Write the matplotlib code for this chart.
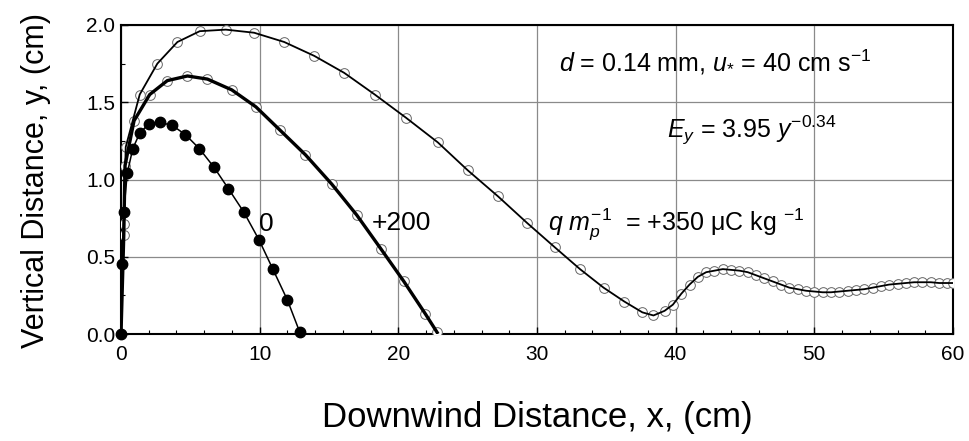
import matplotlib
matplotlib.use("Agg")
import matplotlib.pyplot as plt
from matplotlib.ticker import MultipleLocator

plt.rcParams['font.family'] = ['Liberation Sans', 'DejaVu Sans']
plt.rcParams['mathtext.fontset'] = 'custom'
plt.rcParams['mathtext.rm'] = 'Liberation Sans'
plt.rcParams['mathtext.it'] = 'Liberation Sans:italic'
plt.rcParams['mathtext.bf'] = 'Liberation Sans:bold'

# q/m = 0 (filled circles)
q0_x = [0, 0.1, 0.2, 0.45, 0.85, 1.35, 2.0, 2.8, 3.7, 4.65, 5.65, 6.7, 7.75, 8.85, 9.95, 10.95, 12.0, 12.9]
q0_y = [0, 0.45, 0.79, 1.04, 1.20, 1.30, 1.36, 1.37, 1.35, 1.29, 1.20, 1.08, 0.94, 0.79, 0.61, 0.42, 0.22, 0.01]

# q/m = +200 (open circles, thick line)
q200_x = [0, 0.2, 0.29, 0.94, 2.07, 3.34, 4.79, 6.23, 7.99, 9.73, 11.46, 13.3, 15.2, 17.0, 18.75, 20.4, 21.95, 22.8]
q200_y = [0, 0.64, 1.09, 1.38, 1.55, 1.64, 1.67, 1.65, 1.58, 1.47, 1.32, 1.16, 0.97, 0.77, 0.55, 0.34, 0.13, 0.01]

# q/m = +350 (open circles, thin line)
q350_x = [0, 0.2, 0.34, 1.35, 2.62, 4.07, 5.68, 7.56, 9.6, 11.77, 13.94, 16.1, 18.3, 20.55,
          22.85, 25.0, 27.2, 29.27, 31.3, 33.1, 34.8, 36.3, 37.6, 38.4, 39.2, 39.8, 40.4, 41.0,
          41.6, 42.2, 42.8, 43.4, 44.0, 44.6, 45.2, 45.8, 46.4, 47.0, 47.6, 48.2, 48.8, 49.4,
          50.0, 50.6, 51.2, 51.8, 52.4, 53.0, 53.6, 54.2, 54.8, 55.4, 56.0, 56.6, 57.2, 57.8,
          58.4, 59.0, 59.6, 60.0]
q350_y = [0, 0.71, 1.21, 1.55, 1.75, 1.89, 1.96, 1.97, 1.95, 1.89, 1.80, 1.69, 1.55, 1.40,
          1.24, 1.06, 0.89, 0.72, 0.56, 0.42, 0.30, 0.21, 0.14, 0.12, 0.15, 0.19, 0.26, 0.32,
          0.37, 0.40, 0.41, 0.42, 0.415, 0.41, 0.40, 0.38, 0.36, 0.34, 0.32, 0.30, 0.29, 0.28,
          0.275, 0.27, 0.27, 0.275, 0.28, 0.285, 0.29, 0.30, 0.31, 0.32, 0.325, 0.33, 0.335, 0.335,
          0.335, 0.33, 0.33, 0.33]

x_ticks = [0, 10, 20, 30, 40, 50, 60]
y_ticks = [0.0, 0.5, 1.0, 1.5, 2.0]

fig = plt.figure(figsize=(9.69, 4.41), dpi=100)
ax = fig.add_axes([121/969, 1-334/441, (953-121)/969, (334-25)/441])

ax.set_xlim(0, 60)
ax.set_ylim(0, 2.0)
ax.set_xticks(x_ticks)
ax.set_yticks(y_ticks)
ax.set_yticklabels([f"{v:.1f}" for v in y_ticks])
ax.xaxis.set_minor_locator(MultipleLocator(2))
ax.yaxis.set_minor_locator(MultipleLocator(0.25))
ax.tick_params(axis='both', which='both', direction='in', top=False, right=False)
ax.tick_params(axis='both', which='major', length=5, width=1, labelsize=15)
ax.tick_params(axis='both', which='minor', length=3, width=0.8)
ax.tick_params(axis='x', pad=8)
ax.tick_params(axis='y', pad=4)

ax.grid(True, which='major', color='#8a8a8a', linewidth=0.9)
ax.set_axisbelow(True)
for s in ax.spines.values():
    s.set_linewidth(1.5)
    s.set_color('black')

# open circles
ax.plot(q350_x, q350_y, linestyle='none', marker='o', ms=7, mfc='white', mec='#666666', mew=0.7, zorder=3)
ax.plot(q200_x, q200_y, linestyle='none', marker='o', ms=7, mfc='white', mec='#666666', mew=0.7, zorder=3)
ax.plot(q350_x, q350_y, color='black', lw=1.3, zorder=4)
ax.plot(q200_x, q200_y, color='black', lw=2.4, zorder=4)
ax.plot(q0_x, q0_y, color='black', lw=1.1, marker='o', ms=7.5, mfc='black', mec='black', zorder=5, clip_on=False)

ax.text(10.5, 0.71, "0", fontsize=19, ha='center', va='center')
ax.text(20.2, 0.72, "+200", fontsize=19, ha='center', va='center')
ax.text(30.8, 0.71, r"$q$ $m_p^{-1}$  = +350 μC kg $^{-1}$", fontsize=18, ha='left', va='center')
ax.text(31.6, 1.76, r"$d$ = 0.14 mm, $u_{*}$ = 40 cm s$^{-1}$", fontsize=18, ha='left', va='center')
ax.text(39.4, 1.32, r"$E_y$ = 3.95 $y^{-0.34}$", fontsize=18, ha='left', va='center')

fig.text(0.5 * (121 + 953) / 969, 1 - 418/441, "Downwind Distance, x, (cm)", fontsize=25, ha='center', va='center')
fig.text(36/969, 1 - 180/441, "Vertical Distance, y, (cm)", fontsize=22, ha='center', va='center', rotation=90)

fig.savefig("out.png", dpi=100)
